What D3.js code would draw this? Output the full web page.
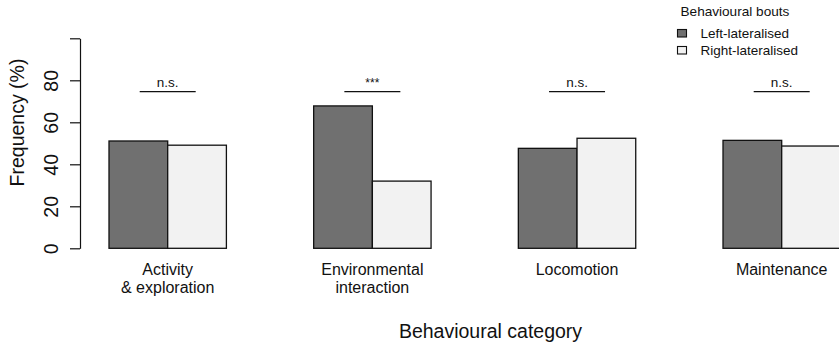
<!DOCTYPE html>
<html>
<head>
<meta charset="utf-8">
<script src="https://cdn.jsdelivr.net/npm/d3@7"></script>
<style>
  html, body { margin: 0; padding: 0; background: #fff; }
  svg { display: block; font-family: "Liberation Sans", Arial, Helvetica, sans-serif; }
</style>
</head>
<body>
<svg id="chart" width="839" height="346"></svg>
<script>
// ---- data ----
const categories = [["Activity", "& exploration"], ["Environmental", "interaction"], ["Locomotion"], ["Maintenance"]];
const seriesNames = ["Left-lateralised", "Right-lateralised"];
const leftValues = [51.1, 67.8, 47.6, 51.4];
const rightValues = [49.1, 32.0, 52.4, 48.7];
const significance = ["n.s.", "***", "n.s.", "n.s."];
const yTicks = [0, 20, 40, 60, 80, 100];
const yTickLabels = ["0", "20", "40", "60", "80", ""];
const legendTitle = "Behavioural bouts";
const xTitle = "Behavioural category";
const yTitle = "Frequency (%)";

// ---- layout ----
const svg = d3.select("#chart");
const fills = ["#707070", "#f2f2f2"];
const catKeys = categories.map((c, i) => i);

const x = d3.scaleBand().domain(catKeys).range([109, 840.4]).paddingInner(0.4264).paddingOuter(0);
const xs = d3.scaleBand().domain([0, 1]).range([0, x.bandwidth()]).padding(0);
const y = d3.scaleLinear().domain([0, 100]).range([248.3, 38.3]);

// bars
const groups = svg.append("g").selectAll("g").data(catKeys).join("g")
  .attr("transform", d => `translate(${x(d)},0)`);
groups.selectAll("rect").data(d => [leftValues[d], rightValues[d]]).join("rect")
  .attr("x", (v, j) => xs(j))
  .attr("width", xs.bandwidth())
  .attr("y", v => y(v))
  .attr("height", v => y(0) - y(v))
  .attr("fill", (v, j) => fills[j])
  .attr("stroke", "#111")
  .attr("stroke-width", 1.3);

// significance lines & labels
const sig = svg.append("g").selectAll("g").data(catKeys).join("g")
  .attr("transform", d => `translate(${x(d) + x.bandwidth() / 2},0)`);
sig.append("line")
  .attr("x1", -28).attr("x2", 28)
  .attr("y1", 91.7).attr("y2", 91.7)
  .attr("stroke", "#111").attr("stroke-width", 1.3);
sig.append("text")
  .attr("text-anchor", "middle")
  .attr("y", d => significance[d] === "***" ? 87 : 86.5)
  .attr("font-size", d => significance[d] === "***" ? 12 : 13.5)
  .attr("fill", "#111")
  .text(d => significance[d]);

// y axis
const yAxis = d3.axisLeft(y).tickValues(yTicks).tickFormat((d, i) => yTickLabels[i]).tickSize(10).tickSizeOuter(0);
const ya = svg.append("g").attr("transform", "translate(80,0)").call(yAxis);
ya.select(".domain").attr("stroke", "#111").attr("stroke-width", 1.2);
ya.selectAll(".tick line").attr("stroke", "#111").attr("stroke-width", 1.2);
ya.selectAll(".tick text")
  .attr("x", null).attr("dy", null)
  .attr("transform", "translate(-22,0) rotate(-90)")
  .attr("text-anchor", "middle")
  .attr("font-size", 19.5)
  .attr("font-family", "'Liberation Sans', Arial, sans-serif")
  .attr("fill", "#111");

// y title
svg.append("text")
  .attr("transform", "translate(24,122.5) rotate(-90)")
  .attr("text-anchor", "middle")
  .attr("font-size", 19.5)
  .attr("fill", "#111")
  .text(yTitle);

// category labels
const cl = svg.append("g").selectAll("text").data(catKeys).join("text")
  .attr("x", d => x(d) + x.bandwidth() / 2)
  .attr("y", 274.5)
  .attr("text-anchor", "middle")
  .attr("font-size", 16)
  .attr("fill", "#111");
cl.selectAll("tspan").data(d => categories[d]).join("tspan")
  .attr("x", function() { return this.parentNode.getAttribute("x"); })
  .attr("dy", (t, i) => i === 0 ? 0 : 18)
  .text(t => t);

// x title
svg.append("text")
  .attr("x", 490.5).attr("y", 338.3)
  .attr("text-anchor", "middle")
  .attr("font-size", 19.5)
  .attr("fill", "#111")
  .text(xTitle);

// legend
const lg = svg.append("g");
lg.append("text").attr("x", 680.5).attr("y", 16).attr("font-size", 13.6).attr("fill", "#111").text(legendTitle);
const items = lg.selectAll("g").data(seriesNames).join("g")
  .attr("transform", (d, i) => `translate(0,${i * 17})`);
items.append("rect")
  .attr("x", 677.5).attr("y", 29.5).attr("width", 9).attr("height", 7.5)
  .attr("fill", (d, i) => fills[i]).attr("stroke", "#111").attr("stroke-width", 1.1);
items.append("text")
  .attr("x", 700.5).attr("y", 37.5)
  .attr("font-size", 13.5).attr("fill", "#111")
  .text(d => d);
</script>
</body>
</html>
